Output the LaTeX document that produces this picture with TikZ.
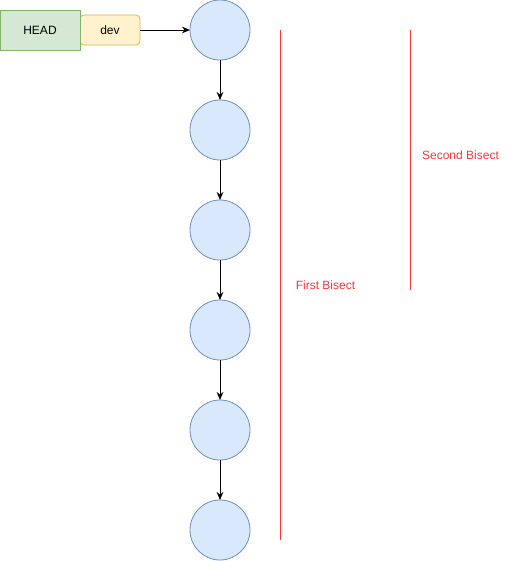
\documentclass[tikz,border=0pt]{standalone}
\usepackage{fontspec}
\setmainfont{Liberation Sans}
\usetikzlibrary{arrows.meta, positioning}
\definecolor{commitfill}{HTML}{DAE8FC}
\definecolor{commitline}{HTML}{6C8EBF}
\definecolor{headfill}{HTML}{D5E8D4}
\definecolor{headline}{HTML}{82B366}
\definecolor{devfill}{HTML}{FFF2CC}
\definecolor{devline}{HTML}{D6B656}
\definecolor{bisectred}{HTML}{FF3333}

\begin{document}
\begin{tikzpicture}[x=0.75pt, y=-0.75pt, >={Stealth[length=6pt, width=5pt]}, font=\fontsize{9pt}{11pt}\selectfont,
  commit/.style={draw=commitline, fill=commitfill, circle, minimum size=45pt, inner sep=0pt, outer sep=0pt, line width=0.6pt},
  ref/.style={draw, line width=0.6pt, minimum height=22.5pt, inner sep=0pt},
  bisect/.style={draw=bisectred, line width=0.75pt}]
\useasboundingbox (0,0) rectangle (511,561);
\node[commit] (c1) at (220,30) {};
\node[commit, below=30pt of c1] (c2) {};
\node[commit, below=30pt of c2] (c3) {};
\node[commit, below=30pt of c3] (c4) {};
\node[commit, below=30pt of c4] (c5) {};
\node[commit, below=30pt of c5] (c6) {};
\node[ref, draw=devline, fill=devfill, rounded corners=3pt, minimum width=45pt] (dev) at (110,30) {dev};
\node[ref, draw=headline, fill=headfill, minimum width=60pt, minimum height=30pt] (head) at (40,30) {HEAD};
\draw[->, line width=0.75pt] (dev) -- (c1);
\draw[->, line width=0.75pt] (c1) -- (c2);
\draw[->, line width=0.75pt] (c2) -- (c3);
\draw[->, line width=0.75pt] (c3) -- (c4);
\draw[->, line width=0.75pt] (c4) -- (c5);
\draw[->, line width=0.75pt] (c5) -- (c6);
% bisect ranges
\coordinate (first top) at (280,30);
\coordinate (first bottom) at (280,540);
\coordinate (second top) at (410,30);
\coordinate (second bottom) at (410,290);
\draw[bisect] (first top) -- (first bottom);
\draw[bisect] (second top) -- (second bottom);
\node[text=bisectred] (first) at (325.5,285) {First Bisect};
\node[text=bisectred] (second) at (460.5,155) {Second Bisect};
\end{tikzpicture}
\end{document}
